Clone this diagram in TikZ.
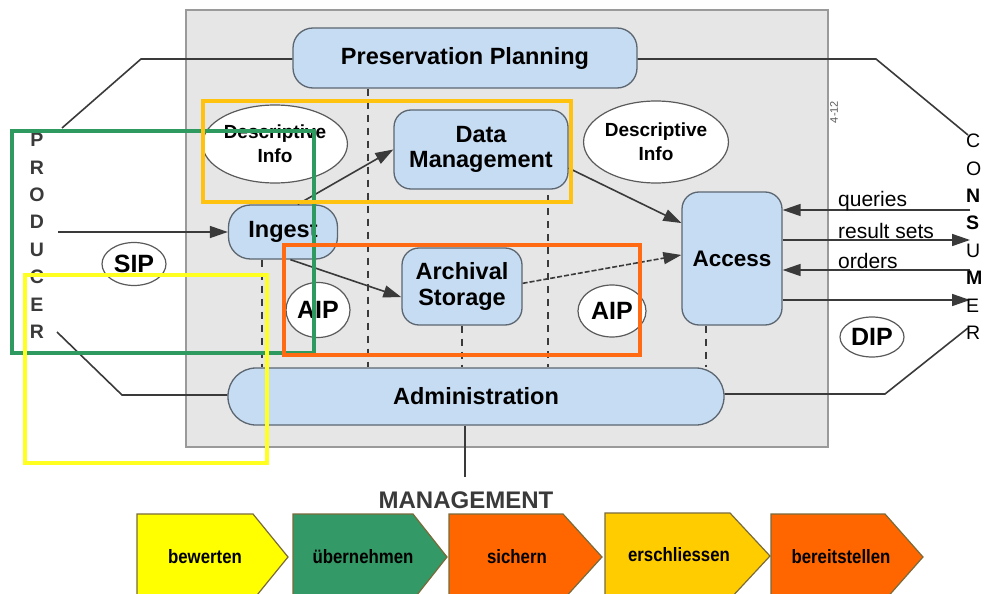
\documentclass[tikz,border=0pt]{standalone}
\usepackage{fontspec}
\setmainfont{Liberation Sans}
\usetikzlibrary{arrows.meta,calc,shapes.geometric}
\definecolor{bgc}{HTML}{E6E6E6}
\definecolor{bgline}{HTML}{9A9A9A}
\definecolor{boxfill}{HTML}{C6DCF3}
\definecolor{boxline}{HTML}{5C6670}
\definecolor{ellline}{HTML}{5A5A5A}
\definecolor{lnc}{HTML}{3A3A3A}
\definecolor{ovgreen}{HTML}{2E9A60}
\definecolor{ovyellow}{HTML}{FFFF22}
\definecolor{ovgold}{HTML}{FFC20E}
\definecolor{ovorange}{HTML}{FF6A13}
\definecolor{chyellow}{HTML}{FFFF00}
\definecolor{chgreen}{HTML}{339966}
\definecolor{chorange}{HTML}{FF6600}
\definecolor{chgold}{HTML}{FFCC00}
\definecolor{chline}{HTML}{7A6A3A}
\newcommand\myfs[2]{\fontsize{#1}{#2}\selectfont}
\newcommand\tallt[1]{\scalebox{1}[1.15]{#1}}
\begin{document}
\begin{tikzpicture}[x=1pt,y=-1pt,
  box/.style={draw=boxline, fill=boxfill, rounded corners=17pt, line width=1.3pt,
    font=\myfs{23.5}{25.5}\bfseries, align=center, inner sep=0pt},
  ell/.style={ellipse, draw=ellline, fill=white, line width=1.2pt, inner sep=0pt, align=center},
  conn/.style={draw=lnc, line width=1.6pt},
  arr/.style={conn, -{Triangle[length=18pt,width=12pt]}},
  dsh/.style={draw=lnc, line width=1.3pt, dash pattern=on 7pt off 6pt},
  ov/.style={line width=4pt},
  chev/.style={draw=chline, line width=1.2pt},
  chtxt/.style={font=\myfs{16.8}{18}\bfseries, text=black},
  letter/.style={font=\myfs{19.5}{19.5}\bfseries, inner sep=0pt},
  lab/.style={font=\myfs{21}{21}, anchor=west, inner sep=0pt}
]
\useasboundingbox (0,0) rectangle (1005,594);

% grey background
\path[fill=bgc, draw=bgline, line width=1.5pt] (186,10) rectangle (828,447);
\node[font=\myfs{11}{11}, text=ellline, rotate=90] (pg) at (834,112) {4-12};

% boxes
\node[box, minimum width=344pt, minimum height=60pt, rounded corners=20pt] (PP) at (465,58) {Preservation Planning};
\node[box, minimum width=174pt, minimum height=79pt] (DM) at (481,149.5) {Data\\Management};
\node[box, minimum width=109pt, minimum height=54pt, rounded corners=22pt] (IN) at (283,232) {Ingest};
\node[box, minimum width=120pt, minimum height=77pt] (AS) at (462,286.5) {Archival\\Storage};
\node[box, minimum width=100pt, minimum height=133pt, font=\myfs{22.5}{24}\bfseries] (AC) at (732,258.5) {Access};
\node[box, minimum width=496pt, minimum height=57pt, rounded corners=28pt] (AD) at (476,396.5) {Administration};

% ellipses
\node[ell, minimum width=136pt, minimum height=78pt, font=\myfs{19}{24}\bfseries] (DI1) at (275,144) {Descriptive\\Info};
\node[ell, minimum width=134pt, minimum height=82pt, font=\myfs{19}{24}\bfseries] (DI2) at (656,142) {Descriptive\\Info};
\node[ell, minimum width=64pt, minimum height=43pt, font=\myfs{25}{25}\bfseries] (SIP) at (134,264) {SIP};
\node[ell, minimum width=64pt, minimum height=55pt, font=\myfs{25}{25}\bfseries] (AIP1) at (318,310) {AIP};
\node[ell, minimum width=68pt, minimum height=52pt, font=\myfs{25}{25}\bfseries] (AIP2) at (612,311) {AIP};
\node[ell, minimum width=64pt, minimum height=40pt, font=\myfs{25}{25}\bfseries] (DIP) at (872,337) {DIP};

% outer connectors
\coordinate (ppl) at (141,59);
\coordinate (ppl2) at (62,128);
\coordinate (ppr) at (876,59);
\coordinate (ppr2) at (968,135);
\coordinate (adl) at (122,395);
\coordinate (adl2) at (57,332);
\coordinate (adr) at (885,394);
\coordinate (adr2) at (968,328);
\draw[conn] (PP.west |- ppl) -- (ppl) -- (ppl2);
\draw[conn] (PP.east |- ppr) -- (ppr) -- (ppr2);
\draw[conn] (AD.west |- adl) -- (adl) -- (adl2);
\draw[conn] (AD.east |- adr) -- (adr) -- (adr2);

% producer arrow
\coordinate (prod) at (58,232);
\draw[arr] (prod) -- (IN.west);

% consumer arrows
\coordinate (cq) at (970,210);
\coordinate (cr) at (970,240);
\coordinate (co) at (970,270);
\coordinate (cd) at (970,300);
\draw[arr] (cq) -- (cq -| AC.east);
\draw[arr] (cr -| AC.east) -- (cr);
\draw[arr] (co) -- (co -| AC.east);
\draw[arr] (cd -| AC.east) -- (cd);
\node[lab] (lq) at (838,201) {queries};
\node[lab] (lr) at (838,231) {result sets};
\node[lab] (lo) at (838,261) {orders};

% internal arrows
\draw[arr] (IN.62) -- (DM.west);
\draw[arr] (IN.-75) -- (AS.190);
\draw[arr] (DM.-12) -- (AC.145);
\draw[arr, dash pattern=on 5pt off 2pt] (AS.3) -- (AC.176);

% dashed verticals
\coordinate (d1) at (262,0);
\coordinate (d2) at (368,0);
\coordinate (d4) at (548,195);
\coordinate (d5) at (706,0);
\draw[dsh] (IN.south -| d1) -- (AD.north -| d1);
\draw[dsh] (PP.south -| d2) -- (AD.north -| d2);
\draw[dsh] (AS.south) -- (AS.south |- AD.north);
\draw[dsh] (d4) -- (AD.north -| d4);
\draw[dsh] (AC.south -| d5) -- (AD.north -| d5);

% management
\coordinate (mg) at (465,477);
\draw[conn] (AD.south -| mg) -- (mg);
\node[font=\myfs{24}{24}\bfseries, text=lnc] (MG) at (466,500) {MANAGEMENT};

% producer / consumer letters
\foreach \l [count=\i from 0] in {P,R,O,D,U,C,E,R}
  \node[letter, text=lnc] (p\i) at (37,{140+27.4*\i}) {\l};
\foreach \l/\w [count=\i from 0] in {C/\mdseries,O/\mdseries,N/\bfseries,S/\bfseries,U/\mdseries,M/\bfseries,E/\mdseries,R/\mdseries}
  \node[letter, text=black, anchor=west] (c\i) at (966,{141+27.4*\i}) {\w\l};

% overlay rectangles
\draw[ov, draw=ovgreen] (12,131) rectangle (314,353);
\draw[ov, draw=ovyellow] (25,275) rectangle (267,463);
\draw[ov, draw=ovgold] (203,101) rectangle (571,202);
\draw[ov, draw=ovorange] (284,245) rectangle (640,355);

% chevrons
\draw[chev, fill=chyellow] (137,514) -- (253,514) -- (288,557) -- (253,600) -- (137,600) -- cycle;
\draw[chev, fill=chgreen] (293,514) -- (413,514) -- (447,557) -- (413,600) -- (293,600) -- cycle;
\draw[chev, fill=chorange] (449,514) -- (563,514) -- (602,557) -- (563,600) -- (449,600) -- cycle;
\draw[chev, fill=chgold] (605,513) -- (730,513) -- (770,556) -- (730,599) -- (605,599) -- cycle;
\draw[chev, fill=chorange] (771,514) -- (885,514) -- (923,557) -- (885,600) -- (771,600) -- cycle;
\node[chtxt] (t1) at (205,557) {\tallt{bewerten}};
\node[chtxt] (t2) at (363,557) {\tallt{übernehmen}};
\node[chtxt] (t3) at (517,557) {\tallt{sichern}};
\node[chtxt] (t4) at (679,555) {\tallt{erschliessen}};
\node[chtxt] (t5) at (841,557) {\tallt{bereitstellen}};
\end{tikzpicture}
\end{document}
